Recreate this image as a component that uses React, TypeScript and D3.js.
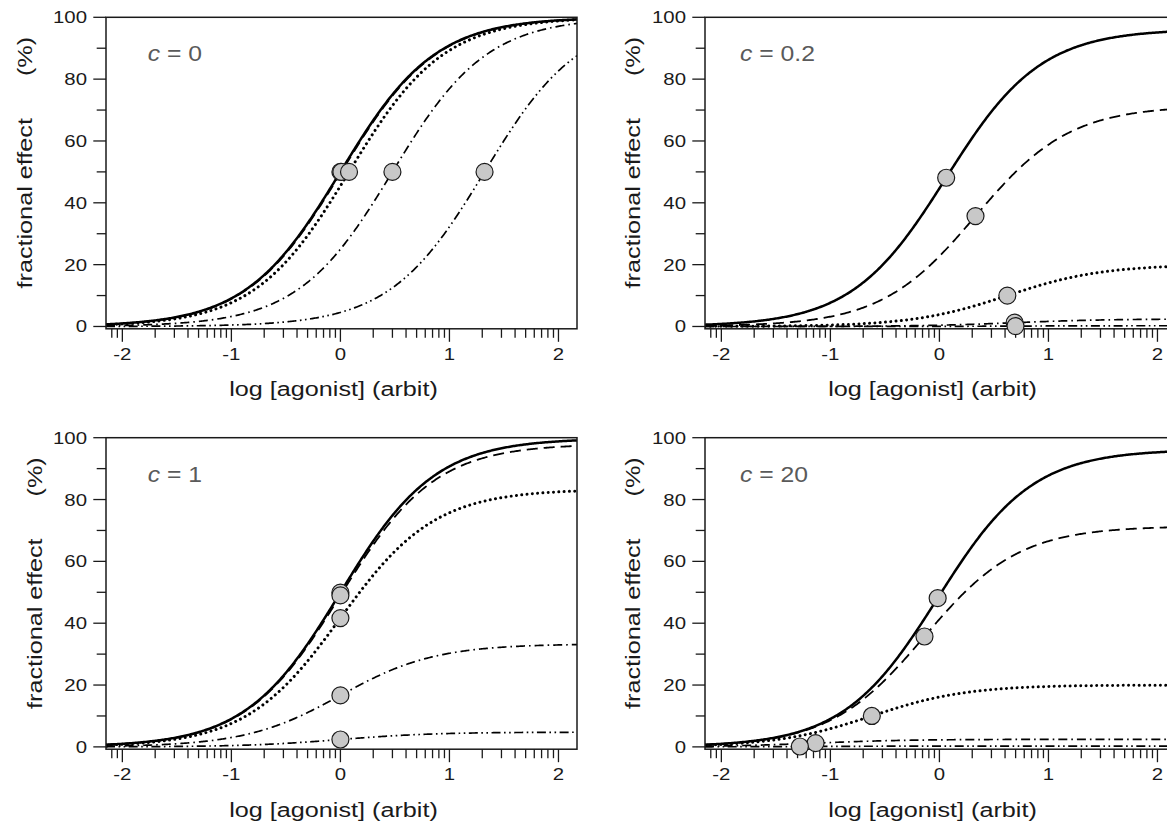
import React from 'react';
import * as d3 from 'd3';

// ---------- data ----------
const panelC = ['0', '0.2', '1', '20'];
const lineStyles = ['solid', 'dashed', 'dotted', 'dashdot', 'dashdotdot'];

// log EC50 (x of each marker) and maximum effect (%) of each curve
const logEC50_c0 = [0.0, 0.009, 0.079, 0.477, 1.322];
const maxEffect_c0 = [100, 100, 100, 100, 100];
const logEC50_c02 = [0.062, 0.331, 0.623, 0.69, 0.698];
const maxEffect_c02 = [96.2, 71.4, 20.0, 2.44, 0.25];
const logEC50_c1 = [0.0, 0.0, 0.0, 0.0, 0.0];
const maxEffect_c1 = [99.8, 98.0, 83.3, 33.3, 4.76];
const logEC50_c20 = [-0.016, -0.137, -0.62, -1.136, -1.28];
const maxEffect_c20 = [96.2, 71.4, 20.0, 2.44, 0.25];

const yMajorTicks = [0, 20, 40, 60, 80, 100];
const yMinorTicks = [10, 30, 50, 70, 90];
const xMajorTicks = [-2, -1, 0, 1, 2];
const xTickLabels = ['-2', '-1', '0', '1', '2'];

const xLabel = 'log [agonist] (arbit)';
const yLabel = 'fractional effect';
const yUnit = '(%)';

const panelsEC50 = [logEC50_c0, logEC50_c02, logEC50_c1, logEC50_c20];
const panelsMax = [maxEffect_c0, maxEffect_c02, maxEffect_c1, maxEffect_c20];

// ---------- layout ----------
const W = 1167, H = 831;
const PW = 471;
const lefts = [106, 705];
const tops = [17.3, 437.7];
const yLabelX = [31.7, 640, 41.7, 640];
const cLabelDX = [41.7, 35, 41.7, 35];
const SX = 1.2;
const FONT = '"Liberation Sans", Arial, Helvetica, sans-serif';
const INK = '#1a1a1a';

const styleAttrs: Record<string, any> = {
  solid: { strokeWidth: 2.5 },
  dashed: { strokeWidth: 1.8, strokeDasharray: '11,6' },
  dotted: { strokeWidth: 3, strokeDasharray: '0.01,5.3', strokeLinecap: 'round' },
  dashdot: { strokeWidth: 1.7, strokeDasharray: '9,4,1.6,4' },
  dashdotdot: { strokeWidth: 1.7, strokeDasharray: '9,3.5,1.6,3.5,1.6,3.5' },
};

function minorLogTicks(lo: number, hi: number) {
  const out: number[] = [];
  for (let d = -3; d <= 2; d++) {
    for (let k = 2; k <= 9; k++) {
      const v = d + Math.log10(k);
      if (v > lo && v < hi) out.push(v);
    }
  }
  return out;
}

function T(props: any) {
  const { x, y, rotate, size, anchor, fill, children, sx } = props;
  return (
    <text
      transform={`translate(${x},${y})${rotate ? ` rotate(${rotate})` : ''} scale(${sx ?? SX},1)`}
      fontSize={size}
      textAnchor={anchor || 'start'}
      fill={fill || INK}
      fontFamily={FONT}
    >
      {children}
    </text>
  );
}

function Panel({ idx }: { idx: number }) {
  const col = idx % 2, row = Math.floor(idx / 2);
  const left = lefts[col], top = tops[row];
  const x = d3.scaleLinear().domain([-2.15, 2.17]).range([left, left + PW]);
  const y = d3.scaleLinear().domain([-0.75, 100]).range([top + 311.5, top]);
  const bottom = y(-0.75);
  const right = left + PW;
  const ec = panelsEC50[idx];
  const mx = panelsMax[idx];
  const xs = d3.range(0, 401).map((i) => -2.15 + (i / 400) * 4.32);
  const line = d3
    .line<number>()
    .x((v) => x(v))
    .y((v, i) => 0);
  const minors = minorLogTicks(-2.15, 2.17);
  const clipId = `clip${idx}`;

  return (
    <g>
      <defs>
        <clipPath id={clipId}>
          <rect x={left} y={top - 2} width={PW} height={bottom - top + 4} />
        </clipPath>
      </defs>
      {/* curves */}
      <g clipPath={`url(#${clipId})`}>
        {ec.map((e, k) => {
          const gen = d3
            .line<number>()
            .x((v) => x(v))
            .y((v) => y(mx[k] / (1 + Math.pow(10, e - v))))
            .curve(d3.curveLinear);
          return (
            <path
              key={k}
              d={gen(xs) || ''}
              fill="none"
              stroke="#000"
              {...styleAttrs[lineStyles[k]]}
            />
          );
        })}
      </g>
      {/* frame */}
      <rect x={left} y={top} width={PW} height={bottom - top} fill="none" stroke={INK} strokeWidth={1.5} />
      {/* y ticks */}
      {yMajorTicks.map((t) => (
        <g key={'ym' + t}>
          <line x1={left - 12.7} x2={left} y1={y(t)} y2={y(t)} stroke={INK} strokeWidth={1.3} />
          <T x={left - 19} y={y(t) + 6} size={17} anchor="end">
            {String(t)}
          </T>
        </g>
      ))}
      {yMinorTicks.map((t) => (
        <line key={'yn' + t} x1={left - 9.3} x2={left} y1={y(t)} y2={y(t)} stroke={INK} strokeWidth={1.3} />
      ))}
      {/* x ticks */}
      {xMajorTicks.map((t, i) =>
        x(t) <= right ? (
          <g key={'xm' + t}>
            <line x1={x(t)} x2={x(t)} y1={bottom} y2={bottom + 13} stroke={INK} strokeWidth={1.3} />
            <T x={x(t)} y={bottom + 31} size={17} anchor="middle">
              {xTickLabels[i]}
            </T>
          </g>
        ) : null
      )}
      {minors.map((t, i) => (
        <line key={'xn' + i} x1={x(t)} x2={x(t)} y1={bottom} y2={bottom + 9} stroke={INK} strokeWidth={1.3} />
      ))}
      {/* markers */}
      {ec.map((e, k) => (
        <circle key={'c' + k} cx={x(e)} cy={y(mx[k] / 2)} r={8.5} fill="#c8c8c8" stroke={INK} strokeWidth={1.2} />
      ))}
      {/* panel label */}
      <T x={left + cLabelDX[idx]} y={top + 44} size={21.5} sx={1.15} fill="#5a5a5a">
        <tspan fontStyle="italic">c</tspan>
        {' = ' + panelC[idx]}
      </T>
      {/* axis titles */}
      <T x={left + 227.5} y={bottom + 67.5} size={21} anchor="middle">
        {xLabel}
      </T>
      <T x={yLabelX[idx]} y={top + 186} rotate={-90} size={21} anchor="middle">
        {yLabel}
      </T>
      <T x={yLabelX[idx]} y={top + 39.2} rotate={-90} size={21} anchor="middle">
        {yUnit}
      </T>
    </g>
  );
}

export default function App() {
  return (
    <svg
      width={W}
      height={H}
      viewBox={`0 0 ${W} ${H}`}
      style={{ position: 'absolute', left: 0, top: 0, background: '#fff' }}
    >
      <rect x={0} y={0} width={W} height={H} fill="#fff" />
      {[0, 1, 2, 3].map((i) => (
        <Panel key={i} idx={i} />
      ))}
    </svg>
  );
}
